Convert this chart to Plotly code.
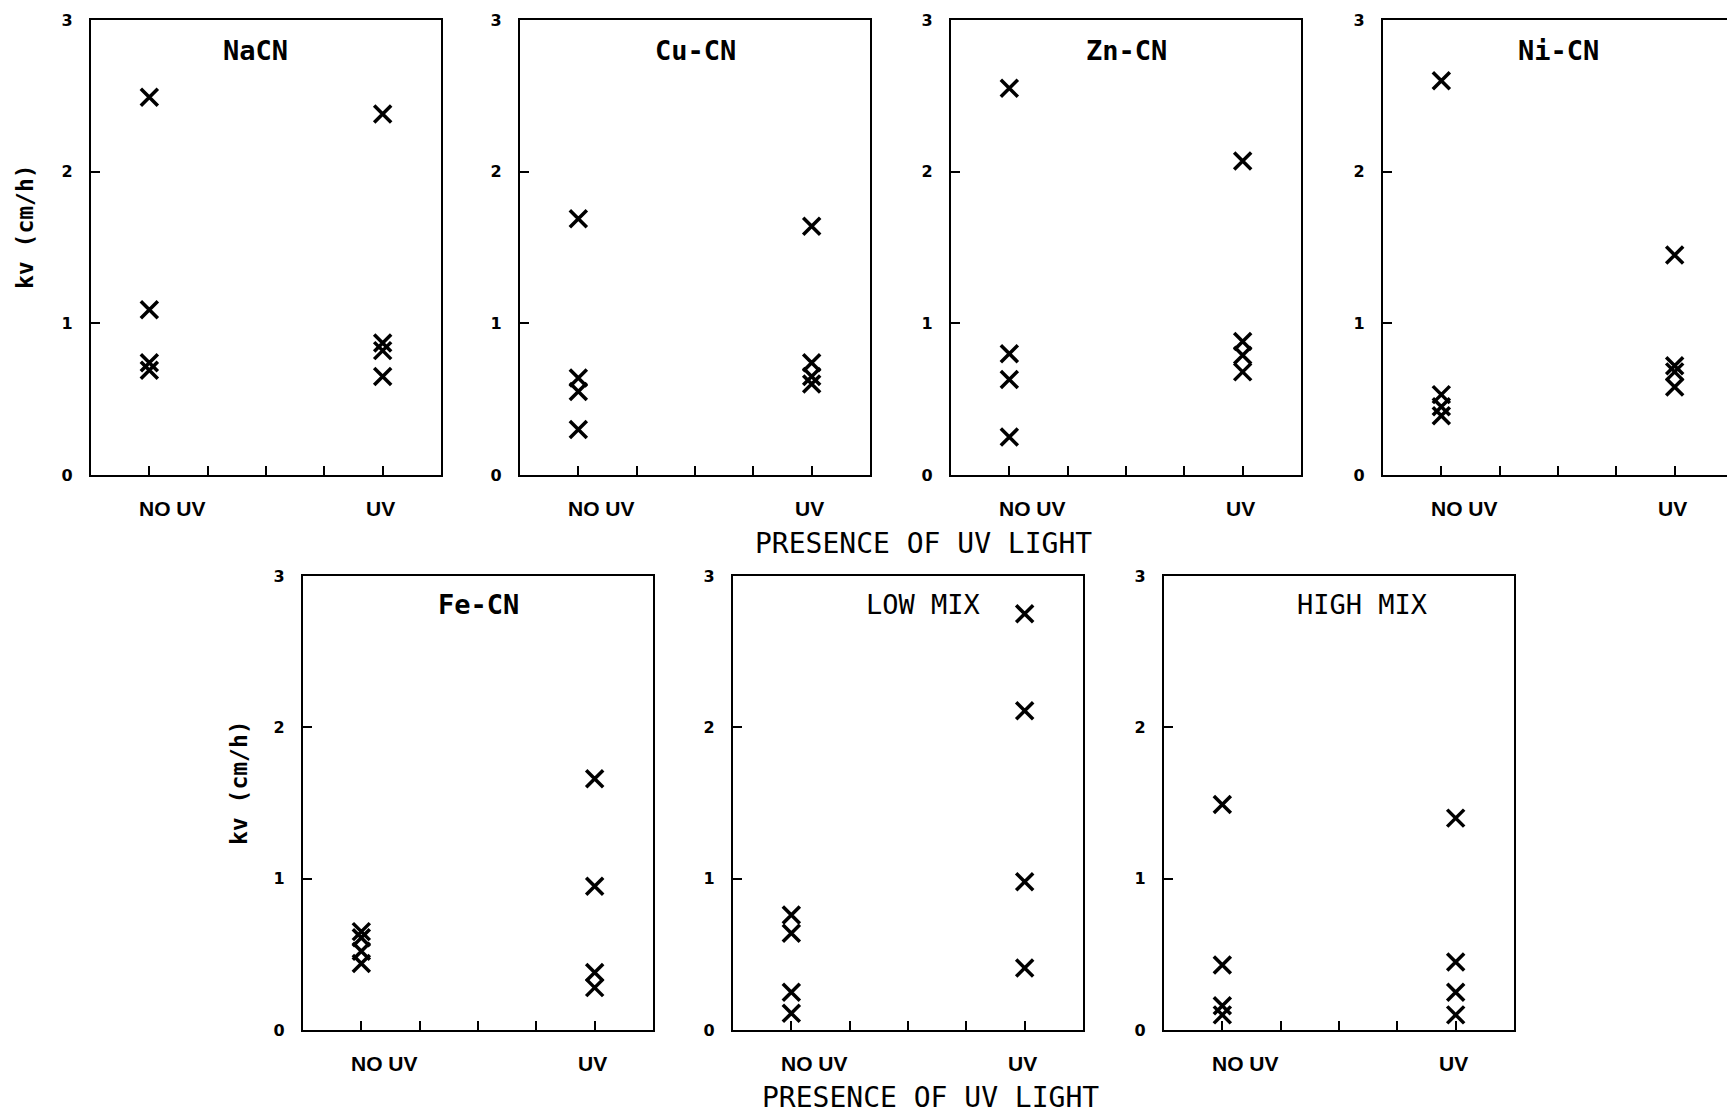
import plotly.graph_objects as go

# ---------------- data ----------------
panel_names = ["NaCN", "Cu-CN", "Zn-CN", "Ni-CN", "Fe-CN", "LOW MIX", "HIGH MIX"]
categories = ["NO UV", "UV"]
category_x = [1, 5]          # positions of the two groups on the 0..6 axis
x_tick_vals = [1, 2, 3, 4, 5]
y_tick_vals = [0, 1, 2, 3]
y_tick_text = ["0", "1", "2", "3"]

nacn_no_uv = [2.49, 1.09, 0.74, 0.69]
nacn_uv = [2.38, 0.87, 0.82, 0.65]
cucn_no_uv = [1.69, 0.64, 0.55, 0.30]
cucn_uv = [1.64, 0.74, 0.65, 0.60]
zncn_no_uv = [2.55, 0.80, 0.63, 0.25]
zncn_uv = [2.07, 0.88, 0.79, 0.68]
nicn_no_uv = [2.60, 0.53, 0.45, 0.39]
nicn_uv = [1.45, 0.72, 0.68, 0.58]
fecn_no_uv = [0.65, 0.61, 0.52, 0.44]
fecn_uv = [1.66, 0.95, 0.38, 0.28]
lowmix_no_uv = [0.76, 0.64, 0.25, 0.11]
lowmix_uv = [2.75, 2.11, 0.98, 0.41]
highmix_no_uv = [1.49, 0.43, 0.16, 0.10]
highmix_uv = [1.40, 0.45, 0.25, 0.10]

series = [
    (nacn_no_uv, nacn_uv),
    (cucn_no_uv, cucn_uv),
    (zncn_no_uv, zncn_uv),
    (nicn_no_uv, nicn_uv),
    (fecn_no_uv, fecn_uv),
    (lowmix_no_uv, lowmix_uv),
    (highmix_no_uv, highmix_uv),
]

y_title = "kv (cm/h)"
x_title = "PRESENCE OF UV LIGHT"

# ---------------- layout (target pixels in the 1727x1115 picture) ----------------
W = 1727
FIG_H = 1115
PW = 350
panel_px = [
    (91, 20, 475), (520, 20, 475), (951, 20, 475), (1383, 20, 475),
    (303, 576, 1030), (733, 576, 1030), (1164, 576, 1030),
]
title_px = [(256, 50), (695, 50), (1126, 50), (1558, 50),
            (478, 604), (923, 604), (1362, 604)]
title_bold = [True, True, True, True, True, False, False]


def px_x(p):
    return p / W


def px_y(p):
    return 1 - p / FIG_H


fig = go.Figure()
annotations = []
unit = PW / 6.0

for i, (name, (no_uv, uv)) in enumerate(zip(panel_names, series)):
    n = i + 1
    left, top, bottom = panel_px[i]
    right = min(left + PW, W)
    xmax = (right - left) / unit
    xa = "xaxis" if n == 1 else f"xaxis{n}"
    ya = "yaxis" if n == 1 else f"yaxis{n}"
    xr = "x" if n == 1 else f"x{n}"
    yr = "y" if n == 1 else f"y{n}"

    for cx, vals in zip(category_x, (no_uv, uv)):
        fig.add_trace(go.Scatter(
            x=[cx] * len(vals), y=vals, mode="markers", xaxis=xr, yaxis=yr,
            marker=dict(symbol="x-thin", size=17, color="black",
                        line=dict(width=3.5, color="black")),
            showlegend=False, hoverinfo="y"))

    fig.update_layout({
        xa: dict(domain=[px_x(left), px_x(right)], range=[0, xmax],
                 showline=True, linecolor="black", linewidth=2.4,
                 mirror=True, ticks="inside", ticklen=9, tickwidth=2.4,
                 tickcolor="black", tickvals=x_tick_vals, showticklabels=False,
                 showgrid=False, zeroline=False, anchor=yr, fixedrange=True,
                 automargin=False),
        ya: dict(domain=[px_y(bottom), px_y(top)], range=[0, 3],
                 showline=True, linecolor="black", linewidth=2.4,
                 mirror=(n != 4), ticks="inside", ticklen=9, tickwidth=2.4,
                 tickcolor="black", tickvals=y_tick_vals, ticktext=y_tick_text,
                 ticklabelstandoff=13,
                 tickfont=dict(family="DejaVu Sans", size=16, color="black",
                               weight="bold"),
                 showgrid=False, zeroline=False, anchor=xr, fixedrange=True,
                 automargin=False),
    })

    # panel title
    tx, ty = title_px[i]
    annotations.append(dict(
        text=name, x=px_x(tx), y=px_y(ty), xref="paper", yref="paper",
        showarrow=False, xanchor="center", yanchor="middle",
        font=dict(family="DejaVu Sans Mono", size=27, color="black",
                  weight="bold" if title_bold[i] else "normal")))

    # category labels under the axis
    for lx, lab in zip([1.39, 4.96], categories):
        annotations.append(dict(
            text=lab, x=lx, y=px_y(bottom + 33), xref=xr, yref="paper",
            showarrow=False, xanchor="center", yanchor="middle",
            font=dict(family="Liberation Sans", size=21, color="black",
                      weight="bold")))

# y-axis titles
for (x, y) in [(25, 227), (239, 783)]:
    annotations.append(dict(
        text=y_title, x=px_x(x), y=px_y(y), xref="paper", yref="paper",
        showarrow=False, textangle=-90, xanchor="center", yanchor="middle",
        font=dict(family="DejaVu Sans Mono", size=23, color="black",
                  weight="bold")))

# x-axis titles
for (x, y) in [(923, 543), (931, 1097)]:
    annotations.append(dict(
        text=x_title, x=px_x(x), y=px_y(y), xref="paper", yref="paper",
        showarrow=False, xanchor="center", yanchor="middle",
        font=dict(family="DejaVu Sans Mono", size=28, color="black")))

fig.update_layout(
    width=W, height=FIG_H, margin=dict(l=0, r=0, t=0, b=0, pad=0),
    paper_bgcolor="white", plot_bgcolor="white",
    annotations=annotations, showlegend=False,
)

fig.write_html("out.html")
